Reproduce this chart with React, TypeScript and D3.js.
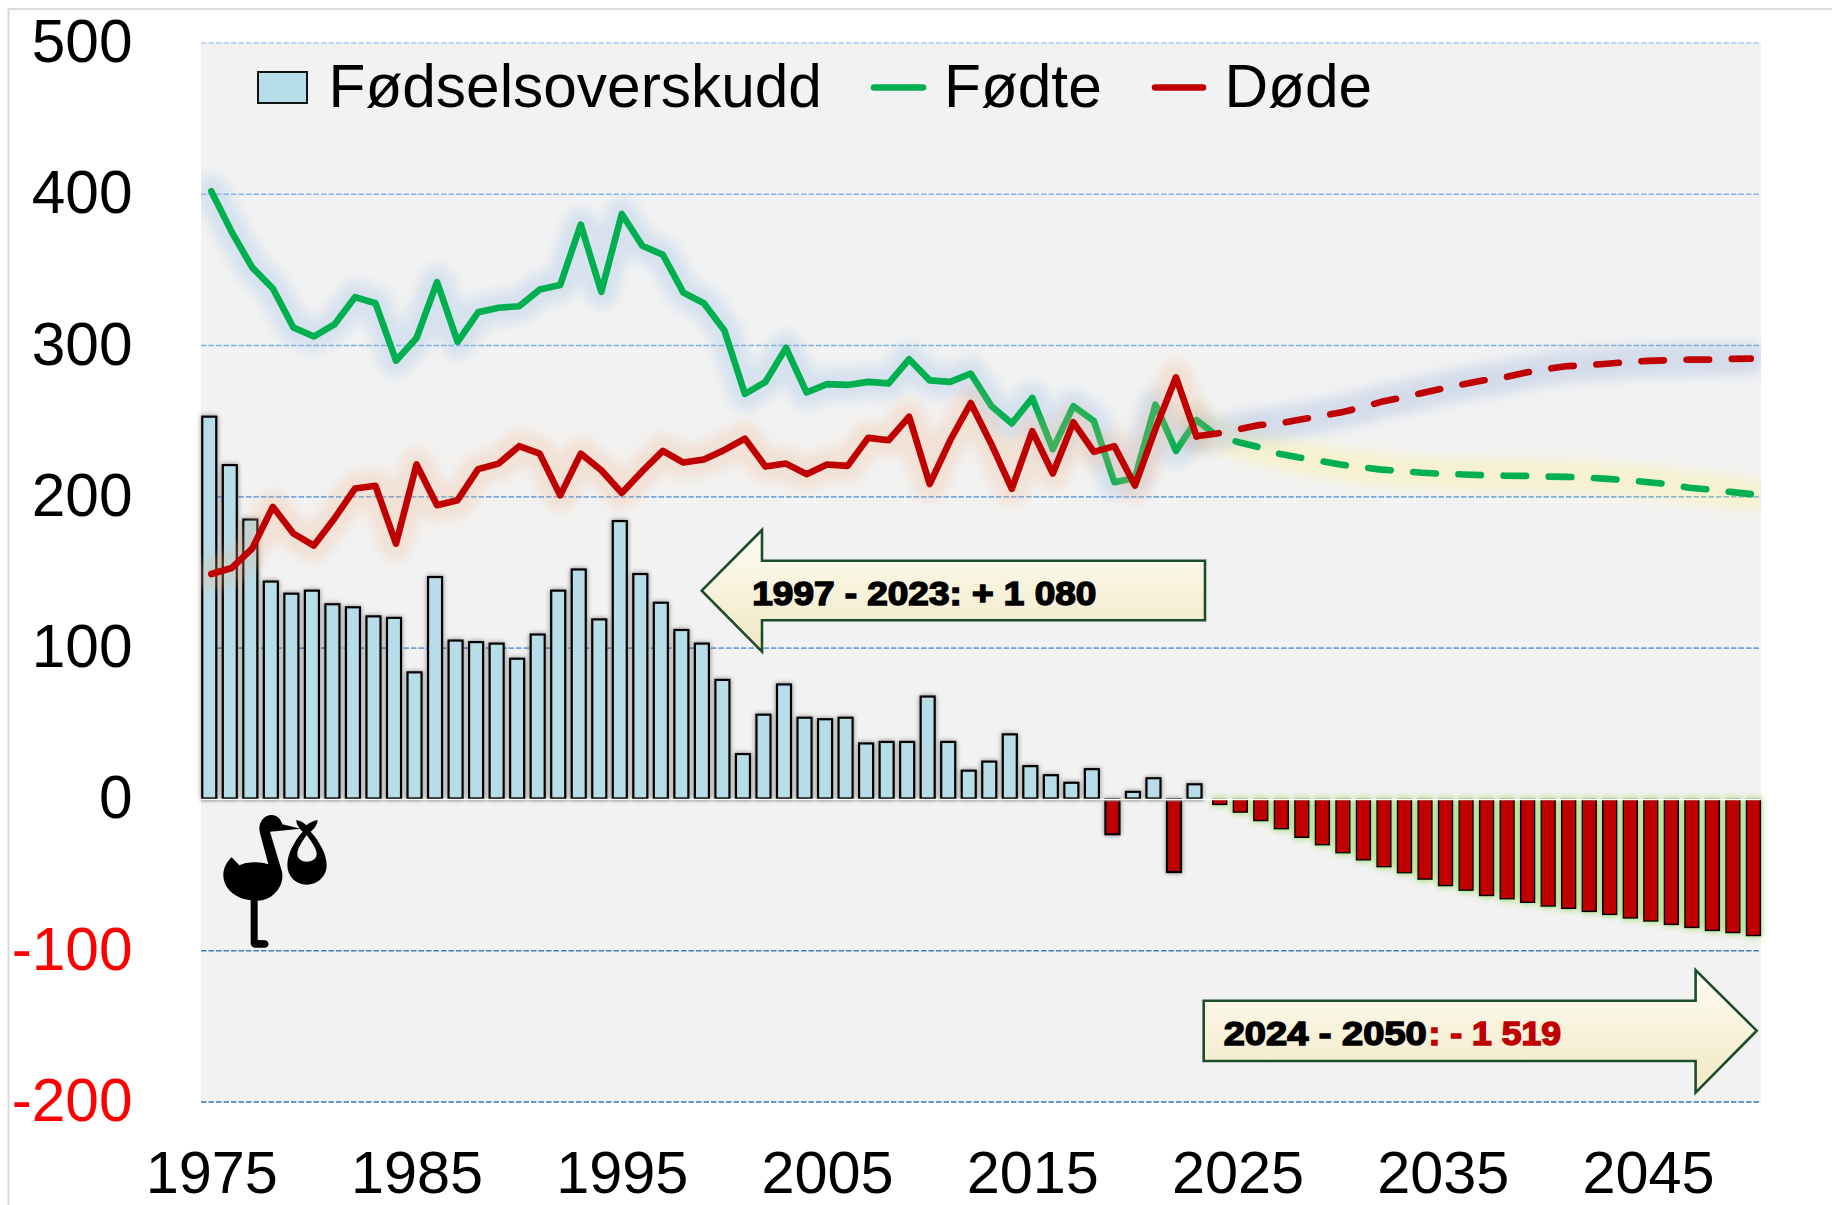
import React from "react";
import * as d3 from "d3";

const years: number[] = Array.from({ length: 76 }, (_, i) => 1975 + i);
const histBars = [253,221,185,144,136,138,129,127,121,120,84,147,105,104,103,93,109,138,152,119,184,149,130,112,103,79,30,56,76,54,53,54,37,38,38,68,38,19,25,43,22,16,11,20,-23,5,14,-48,10];
const forecastBars = [-3.3,-8.4,-14,-19.4,-25,-30,-35.3,-40,-44.5,-48.5,-52.7,-57,-60,-63.5,-65.7,-68,-70.5,-72,-74,-76,-78.4,-80.4,-82.6,-84.6,-86.6,-88,-90];
const birthsHist = [402,375,351.5,337.7,312,306,314,332,328,290,305,342,302.4,322,325,326,337,340,380,335.5,387,366,360,335,328,310,268,276,298.5,269,274.5,274,276,275,291,277,276,281.5,260,248.5,265.4,231.5,260,250,209.7,212.5,261,230.4,250.7];
const deathsHist = [149,153,166,193.4,175.8,167.8,185.7,205.5,207.3,169,221.4,194.5,197.8,218.3,222,233.5,228.6,201,228.6,217.6,202.6,217,230.4,222.7,224.7,231,238.5,220,222,215,221.4,220.5,239,237.4,253,208.4,237.4,262,235,205.3,243.4,215.4,249.3,229.7,233.5,207.5,245,279,240];
const birthsForecast = [240.3,236.3,233,228.6,226,223.8,221.4,219.6,218,217,215.9,215.2,214.8,214.3,214,213.9,213.4,213.2,212.8,211.9,211,209.7,208.4,206,204.8,203.3,201.8];
const deathsForecast = [241.9,244.5,247.4,248.5,251,253.3,255.7,259,262.8,265.6,268.7,271.6,274.5,277,279,282,284.4,286.3,287,288,289.2,289.9,290.3,290.7,290.7,291.2,291.4];
const yTicks = [500,400,300,200,100,0,-100,-200];
const xTickYears = [1975,1985,1995,2005,2015,2025,2035,2045];
const gridColors: Record<number,string> = {500:"#a9cbf0",400:"#86b5e6",300:"#7dafe2",200:"#74a8de",100:"#6ea2d8",[-100]:"#3f7dbf",[-200]:"#3a78ba"};

const FONT = "'Liberation Sans', Arial, sans-serif";
const FS = 60.4;
const L = 201, R = 1761, T = 43, B = 1102;
const x = d3.scaleBand<number>().domain(years).range([L, R]);
const y = d3.scaleLinear().domain([-200, 500]).range([B, T]);
const cx = (yr: number) => (x(yr) as number) + x.bandwidth() / 2;
const line = d3.line<[number, number]>().x(d => cx(d[0])).y(d => y(d[1]));

const histYears = years.filter(v => v <= 2023);
const fcYears = years.filter(v => v >= 2024);
const zip = (ys: number[], vs: number[]) => ys.map((v, i) => [v, vs[i]] as [number, number]);
const lastB = birthsHist[birthsHist.length - 1];
const lastD = deathsHist[deathsHist.length - 1];
const birthsDash = line([[2023, lastB], ...zip(fcYears, birthsForecast)]) as string;
const deathsDash = line([[2023, lastD], ...zip(fcYears, deathsForecast)]) as string;
const birthsSolid = line(zip(histYears, birthsHist)) as string;
const deathsSolid = line(zip(histYears, deathsHist)) as string;

const GREEN = "#00b050", RED = "#c00000", BLUE = "#b7dde8", ARROW = "#1b4d2a";
const BW = 14, SW = 2.2;
const LW = 6.6;

function Bar({ xc, v, fill, sw }: { xc: number; v: number; fill: string; sw: number }) {
  const y0 = y(0), yv = y(v);
  const top = v >= 0 ? yv : y0;
  const bot = v >= 0 ? y0 - 1 : yv;
  return <rect x={xc - BW / 2} y={top} width={BW} height={Math.max(bot - top, 0.5)} fill={fill} stroke="#050505" strokeWidth={sw} />;
}

function Glow({ d, color, opacity }: { d: string; color: string; opacity: number }) {
  return <path d={d} fill="none" stroke={color} strokeOpacity={opacity} strokeWidth={33} strokeLinejoin="round" strokeLinecap="round" filter="url(#blur)" />;
}

export default function App() {
  return (
    <svg width={1832} height={1205} style={{ position: "absolute", left: 0, top: 0, display: "block" }} fontFamily={FONT}>
      <defs>
        <filter id="blur" x="-10%" y="-40%" width="120%" height="180%"><feGaussianBlur stdDeviation={6} /></filter>
        <filter id="barShadow" x="-5%" y="-5%" width="110%" height="110%"><feDropShadow dx={0} dy={0} stdDeviation={2.6} floodColor="#000" floodOpacity={0.45} /></filter>
        <filter id="barGlow" x="-5%" y="-10%" width="110%" height="120%"><feDropShadow dx={0} dy={0} stdDeviation={3.5} floodColor="#7fcf3a" floodOpacity={0.9} /></filter>
        <clipPath id="plot"><rect x={L} y={T} width={R - L} height={B - T} /></clipPath>
        <linearGradient id="arrowFill" x1="0" y1="0" x2="0" y2="1">
          <stop offset="0" stopColor="#fefdf4" /><stop offset="1" stopColor="#f2e7c3" />
        </linearGradient>
      </defs>

      <rect x={0} y={0} width={1832} height={1205} fill="#fff" />
      <rect x={8.5} y={9} width={1900} height={1300} fill="none" stroke="#d9d9d9" strokeWidth={2} />
      <rect x={L} y={T} width={R - L} height={B - T} fill="#f2f2f2" />

      {yTicks.filter(t => t !== 0).map(t => (
        <line key={t} x1={L} x2={R} y1={y(t)} y2={y(t)} stroke={gridColors[t]} strokeWidth={1.6} strokeDasharray="5.5 2" />
      ))}

      {yTicks.map(t => (
        <text key={t} x={132.5} y={y(t) + 19} textAnchor="end" fontSize={FS} fill={t < 0 ? "#ff0000" : "#000"}>{t}</text>
      ))}
      {xTickYears.map(t => (
        <text key={t} x={cx(t) + 0.5} y={1193} textAnchor="middle" fontSize={59.4} fill="#000">{t}</text>
      ))}

      <g transform="translate(180,780) scale(0.33333)" fill="#000">
        <path d="M155 232 L178 256 C195 246 240 242 265 253 L240 160 C232 130 250 105 275 105 C292 105 303 118 307 133 L362 146 L270 155 L306 275 C315 320 275 362 233 362 L233 480 L255 481 C269 482 269 503 255 503 L225 503 C217 503 212 497 212 489 L212 361 C165 355 130 325 130 285 C130 265 140 245 155 232 Z" />
        <path fillRule="evenodd" d="M348 121 C360 122 372 128 379 136 C388 128 400 122 413 120 C412 133 405 145 392 155 C415 180 440 220 440 255 C440 290 412 314 380 314 C348 314 322 290 322 255 C322 220 345 180 368 155 C358 146 350 135 348 121 Z M380 165 C366 185 352 205 352 222 C352 236 365 245 380 245 C396 245 410 236 410 222 C410 205 394 185 380 165 Z" />
      </g>

      <g filter="url(#barShadow)">
        {histYears.map((yr, i) => (
          <Bar key={yr} xc={cx(yr) - 2} v={histBars[i]} fill={histBars[i] >= 0 ? BLUE : RED} sw={SW} />
        ))}
      </g>
      <g filter="url(#barGlow)">
        {fcYears.map((yr, i) => (
          <Bar key={yr} xc={cx(yr) + 2.7} v={forecastBars[i]} fill={RED} sw={1.5} />
        ))}
      </g>
      <line x1={L} x2={cx(2023) + 8} y1={y(0) + 1.4} y2={y(0) + 1.4} stroke="#9a9a9a" strokeWidth={1} />
      <line x1={L} x2={R} y1={y(0)} y2={y(0)} stroke="#fff" strokeWidth={1.6} />

      <g clipPath="url(#plot)">
        <Glow d={birthsDash} color="#ffee70" opacity={0.26} />
        <Glow d={deathsDash} color="#8eaadb" opacity={0.3} />
        <Glow d={birthsSolid} color="#9dc3e6" opacity={0.33} />
        <path d={birthsSolid} fill="none" stroke={GREEN} strokeWidth={LW} strokeLinecap="round" strokeLinejoin="round" />
        <path d={birthsDash} fill="none" stroke={GREEN} strokeWidth={LW} strokeLinecap="round" strokeLinejoin="round" strokeDasharray="22.5 22.7" />
        <Glow d={deathsSolid} color="#f4b183" opacity={0.26} />
        <path d={deathsSolid} fill="none" stroke={RED} strokeWidth={LW} strokeLinecap="round" strokeLinejoin="round" />
        <path d={deathsDash} fill="none" stroke={RED} strokeWidth={LW} strokeLinecap="round" strokeLinejoin="round" strokeDasharray="22.5 22.7" />
      </g>

      <path d="M701.7 590.7 L762 530 L762 560.7 L1205 560.7 L1205 620.3 L762 620.3 L762 651.7 Z" fill="url(#arrowFill)" stroke={ARROW} strokeWidth={2.6} />
      <text x={752.3} y={605} fontSize={33} fontWeight="bold" fill="#000" stroke="#000" strokeWidth={1.5} textLength={344} lengthAdjust="spacingAndGlyphs">1997 - 2023: + 1 080</text>

      <path d="M1203.7 1000.7 L1695.6 1000.7 L1695.6 970 L1756.7 1030.7 L1695.6 1092.7 L1695.6 1061 L1203.7 1061 Z" fill="url(#arrowFill)" stroke={ARROW} strokeWidth={2.6} />
      <text x={1223.7} y={1045} fontSize={33} fontWeight="bold" fill="#000" stroke="#000" strokeWidth={1.5} textLength={203} lengthAdjust="spacingAndGlyphs">2024 - 2050</text>
      <text x={1428.5} y={1045} fontSize={33} fontWeight="bold" fill={RED} stroke={RED} strokeWidth={1.5} textLength={132.5} lengthAdjust="spacingAndGlyphs">: - 1 519</text>

      <rect x={258} y={72} width={49} height={31} fill={BLUE} stroke="#111" strokeWidth={2} />
      <text x={328.5} y={107} fontSize={FS} fill="#000">Fødselsoverskudd</text>
      <line x1={874} x2={923} y1={87.5} y2={87.5} stroke={GREEN} strokeWidth={6.5} strokeLinecap="round" />
      <text x={944} y={107} fontSize={FS} fill="#000">Fødte</text>
      <line x1={1155} x2={1203} y1={87.5} y2={87.5} stroke={RED} strokeWidth={6.5} strokeLinecap="round" />
      <text x={1224.5} y={107} fontSize={FS} fill="#000">Døde</text>
    </svg>
  );
}
